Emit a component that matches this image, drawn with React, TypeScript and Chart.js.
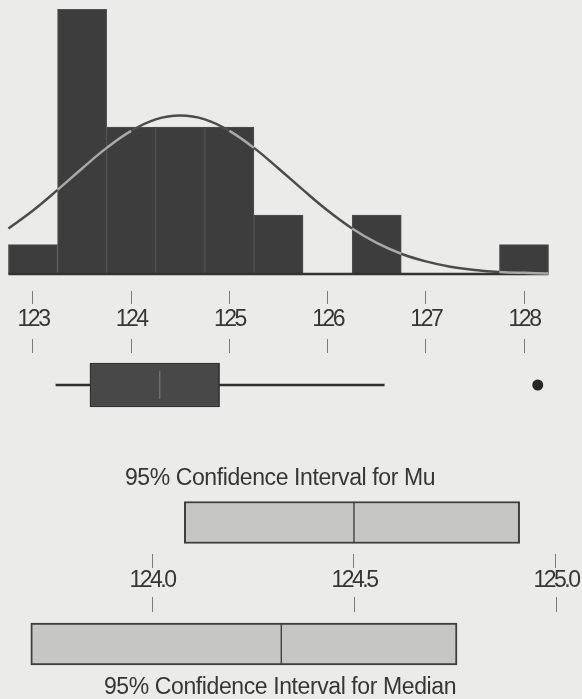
import React, { useEffect, useRef } from "react";
import { Chart, registerables } from "chart.js";

Chart.register(...registerables);

// ---------------- data ----------------
const BIN_CENTERS = [123.0, 123.5, 124.0, 124.5, 125.0, 125.5, 126.0, 126.5, 127.0, 127.5, 128.0];
const BIN_COUNTS = [1, 9, 5, 5, 5, 2, 0, 2, 0, 0, 1];

const CURVE_X = [
  122.75, 123.0, 123.25, 123.5, 123.75, 124.0, 124.25, 124.5, 124.75, 125.0, 125.25, 125.5,
  125.75, 126.0, 126.25, 126.5, 126.75, 127.0, 127.25, 127.5, 127.75, 128.0, 128.25,
];
const CURVE_Y = [
  1.55, 2.16, 2.86, 3.59, 4.29, 4.87, 5.26, 5.39, 5.26, 4.87, 4.29, 3.59,
  2.86, 2.16, 1.55, 1.06, 0.69, 0.43, 0.25, 0.14, 0.07, 0.04, 0.02,
];

const TOP_TICKS = [123, 124, 125, 126, 127, 128];

const WHISKER_LOW = 123.23;
const BOX_Q1 = 123.58;
const BOX_MEDIAN = 124.29;
const BOX_Q3 = 124.9;
const WHISKER_HIGH = 126.58;
const OUTLIERS = [128.14];

const CI_TICKS = [124.0, 124.5, 125.0];
const MU_CI = [124.08, 124.5, 124.91]; // low, mean, high
const MEDIAN_CI = [123.7, 124.32, 124.755]; // low, median, high

const MU_TITLE = "95% Confidence Interval for Mu";
const MEDIAN_TITLE = "95% Confidence Interval for Median";

// ---------------- styling / layout ----------------
const FONT = '"Liberation Sans", Arial, Helvetica, sans-serif';
const BG = "#ebebea";
const TEXT = "#363636";
const TICK_LINE = "#7c7c7c";

// pixel mapping of the two horizontal axes (layout only)
function linearRange(origin: number, originPx: number, pxPerUnit: number, leftPx: number, rightPx: number) {
  return { min: origin + (leftPx - originPx) / pxPerUnit, max: origin + (rightPx - originPx) / pxPerUnit };
}
function valueRange(zeroPx: number, pxPerUnit: number, topPx: number, bottomPx: number) {
  return { min: -(bottomPx - zeroPx) / pxPerUnit, max: (zeroPx - topPx) / pxPerUnit };
}

const spacingPlugin = {
  id: "spacing",
  beforeDraw(chart: any, _args: any, opts: any) {
    (chart.ctx as any).letterSpacing = (opts && opts.value) || "0px";
  },
};

const tickFont = { family: FONT, size: 23, lineHeight: 1 };
const titleFont = { family: FONT, size: 23, lineHeight: 1, weight: "normal" as const };

function fixedAxis(height: number) {
  return (s: any) => {
    s.height = height;
    s.paddingLeft = 0;
    s.paddingRight = 0;
  };
}
function setTicks(values: number[]) {
  return (axis: any) => {
    axis.ticks = values.map((v) => ({ value: v }));
  };
}

function basePlugins(spacing: string) {
  return {
    legend: { display: false },
    tooltip: { enabled: false },
    title: { display: false },
    spacing: { value: spacing },
  };
}

function baseOptions(spacing: string) {
  return {
    responsive: false,
    animation: false as const,
    devicePixelRatio: 1,
    events: [] as any[],
    layout: { padding: 0, autoPadding: false },
    plugins: basePlugins(spacing),
  };
}

// ---------- chart 1: histogram + normal curve + axis labels ----------
function histogramConfig(): any {
  const W = 582, H = 340;
  const xr = linearRange(TOP_TICKS[0], 33, 98.2, 0, W);
  const yr = valueRange(274, 29.4, 0, 291);
  const binW = BIN_CENTERS[1] - BIN_CENTERS[0];
  const countAt = (x: number) => {
    const i = Math.round((x - BIN_CENTERS[0]) / binW);
    return BIN_COUNTS[i] ?? 0;
  };
  return {
    type: "bar",
    data: {
      datasets: [
        {
          type: "line",
          data: CURVE_X.map((x, i) => ({ x, y: CURVE_Y[i] })),
          borderColor: "#7a7a7a",
          borderWidth: 2.5,
          pointRadius: 0,
          tension: 0.4,
          order: 0,
          segment: {
            borderColor: (ctx: any) => {
              const mx = (ctx.p0.parsed.x + ctx.p1.parsed.x) / 2;
              const my = (ctx.p0.parsed.y + ctx.p1.parsed.y) / 2;
              return my < countAt(mx) ? "#a9a9a9" : "#4c4c4c";
            },
          },
        },
        {
          type: "line",
          data: [
            { x: BIN_CENTERS[0] - binW / 2, y: 0 },
            { x: BIN_CENTERS[BIN_CENTERS.length - 1] + binW / 2, y: 0 },
          ],
          borderColor: "#333333",
          borderWidth: 2.5,
          pointRadius: 0,
          order: 1,
        },
        {
          type: "bar",
          data: BIN_CENTERS.map((x, i) => ({ x, y: BIN_COUNTS[i] })),
          backgroundColor: "#3d3d3d",
          borderColor: "#505050",
          borderWidth: 1,
          barPercentage: 1,
          categoryPercentage: 1,
          order: 2,
        },
      ],
    },
    options: {
      ...baseOptions("-2.5px"),
      scales: {
        x: {
          type: "linear",
          position: "bottom",
          min: xr.min,
          max: xr.max,
          offset: false,
          afterBuildTicks: setTicks(TOP_TICKS),
          afterFit: fixedAxis(H - 291),
          border: { display: false },
          grid: { offset: false, drawOnChartArea: false, drawTicks: true, tickLength: 13, color: TICK_LINE, lineWidth: 1 },
          ticks: { padding: 4.5, color: TEXT, font: tickFont, maxRotation: 0, autoSkip: false, callback: (v: any) => String(v) },
        },
        y: { type: "linear", display: false, min: yr.min, max: yr.max },
      },
    },
    plugins: [spacingPlugin],
  };
}

// ---------- chart 2: boxplot ----------
function boxplotConfig(): any {
  const W = 582;
  const xr = linearRange(TOP_TICKS[0], 33, 98.2, 0, W);
  return {
    type: "bar",
    data: {
      datasets: [
        {
          type: "line",
          data: [
            { x: WHISKER_LOW, y: 0 },
            { x: WHISKER_HIGH, y: 0 },
          ],
          borderColor: "#2f2f2f",
          borderWidth: 2.5,
          pointRadius: 0,
          order: 3,
        },
        {
          type: "bar",
          indexAxis: "y",
          data: [{ x: [BOX_Q1, BOX_Q3], y: 0 }],
          backgroundColor: "#484848",
          borderColor: "#303030",
          borderWidth: 1.5,
          borderSkipped: false,
          barThickness: 44,
          order: 2,
        },
        {
          type: "line",
          data: [
            { x: BOX_MEDIAN, y: -0.66 },
            { x: BOX_MEDIAN, y: 0.66 },
          ],
          borderColor: "#6e6e6e",
          borderWidth: 1.5,
          pointRadius: 0,
          order: 1,
        },
        {
          type: "scatter",
          data: OUTLIERS.map((x) => ({ x, y: 0 })),
          pointRadius: 5.5,
          backgroundColor: "#262626",
          borderWidth: 0,
          order: 0,
        },
      ],
    },
    options: {
      ...baseOptions("0px"),
      scales: {
        x: {
          type: "linear",
          position: "top",
          min: xr.min,
          max: xr.max,
          offset: false,
          afterBuildTicks: setTicks(TOP_TICKS),
          afterFit: fixedAxis(18),
          border: { display: false },
          grid: { offset: false, drawOnChartArea: false, drawTicks: true, tickLength: 14, color: TICK_LINE, lineWidth: 1 },
          ticks: { display: false },
        },
        y: { type: "linear", display: false, min: -1, max: 1 },
      },
    },
    plugins: [spacingPlugin],
  };
}

function ciDatasets(ci: number[], thickness: number) {
  return [
    {
      type: "bar",
      indexAxis: "y",
      data: [
        { x: [ci[0], ci[1]], y: 0 },
        { x: [ci[1], ci[2]], y: 0 },
      ],
      backgroundColor: "#c6c6c5",
      borderColor: "#3e3e3e",
      borderWidth: (ctx: any) =>
        ctx.dataIndex === 0
          ? { left: 2, top: 2, bottom: 2, right: 1 }
          : { left: 1, top: 2, bottom: 2, right: 2 },
      borderSkipped: false,
      barThickness: thickness,
    },
  ];
}

// ---------- chart 3: CI for Mu with title ----------
function muConfig(): any {
  const W = 560, H = 114;
  const xr = linearRange(CI_TICKS[0], 152, 404, 0, W);
  const yr = valueRange(65.5, 33.5, 40, 99);
  return {
    type: "bar",
    data: { datasets: ciDatasets(MU_CI, 42) },
    options: {
      ...baseOptions("-0.4px"),
      plugins: {
        ...basePlugins("-0.4px"),
        title: { display: true, text: MU_TITLE, color: TEXT, font: titleFont, padding: { top: 12, bottom: 5 } },
      },
      scales: {
        x: {
          type: "linear",
          position: "bottom",
          min: xr.min,
          max: xr.max,
          offset: false,
          afterBuildTicks: setTicks(CI_TICKS),
          afterFit: fixedAxis(H - 99),
          border: { display: false },
          grid: { offset: false, drawOnChartArea: false, drawTicks: true, tickLength: 14, color: TICK_LINE, lineWidth: 1 },
          ticks: { display: false },
        },
        y: { type: "linear", display: false, min: yr.min, max: yr.max },
      },
    },
    plugins: [spacingPlugin],
  };
}

// ---------- chart 4: CI axis labels + CI for Median ----------
function medianConfig(): any {
  const W = 582;
  const xr = linearRange(CI_TICKS[0], 152, 404, 0, W);
  return {
    type: "bar",
    data: { datasets: ciDatasets(MEDIAN_CI, 42) },
    options: {
      ...baseOptions("-2.5px"),
      scales: {
        x: {
          type: "linear",
          position: "top",
          min: xr.min,
          max: xr.max,
          offset: false,
          afterBuildTicks: setTicks(CI_TICKS),
          afterFit: fixedAxis(52),
          border: { display: false },
          grid: { offset: false, drawOnChartArea: false, drawTicks: true, tickLength: 15, color: TICK_LINE, lineWidth: 1 },
          ticks: { padding: 5, color: TEXT, font: tickFont, maxRotation: 0, autoSkip: false, callback: (v: any) => Number(v).toFixed(1) },
        },
        y: { type: "linear", display: false, min: -1, max: 1 },
      },
    },
    plugins: [spacingPlugin],
  };
}

// ---------- chart 5: median title ----------
function medianTitleConfig(): any {
  return {
    type: "bar",
    data: { datasets: [] },
    options: {
      ...baseOptions("-0.4px"),
      plugins: {
        ...basePlugins("-0.4px"),
        title: { display: true, text: MEDIAN_TITLE, color: TEXT, font: titleFont, padding: { top: 16, bottom: 0 } },
      },
      scales: { x: { display: false }, y: { display: false } },
    },
    plugins: [spacingPlugin],
  };
}

function ChartBox(props: { top: number; width: number; height: number; build: () => any }) {
  const ref = useRef<HTMLCanvasElement | null>(null);
  useEffect(() => {
    if (!ref.current) return;
    const chart = new Chart(ref.current, props.build());
    return () => chart.destroy();
  }, []);
  return (
    <canvas
      ref={ref}
      width={props.width}
      height={props.height}
      style={{ position: "absolute", left: 0, top: props.top, width: props.width, height: props.height, display: "block" }}
    />
  );
}

export default function App() {
  return (
    <div
      style={{
        position: "fixed",
        left: 0,
        top: 0,
        width: 582,
        height: 699,
        overflow: "hidden",
        background: BG,
      }}
    >
      <ChartBox top={0} width={582} height={340} build={histogramConfig} />
      <ChartBox top={335} width={582} height={82} build={boxplotConfig} />
      <ChartBox top={455} width={560} height={114} build={muConfig} />
      <ChartBox top={560} width={582} height={116} build={medianConfig} />
      <ChartBox top={660} width={560} height={60} build={medianTitleConfig} />
    </div>
  );
}
